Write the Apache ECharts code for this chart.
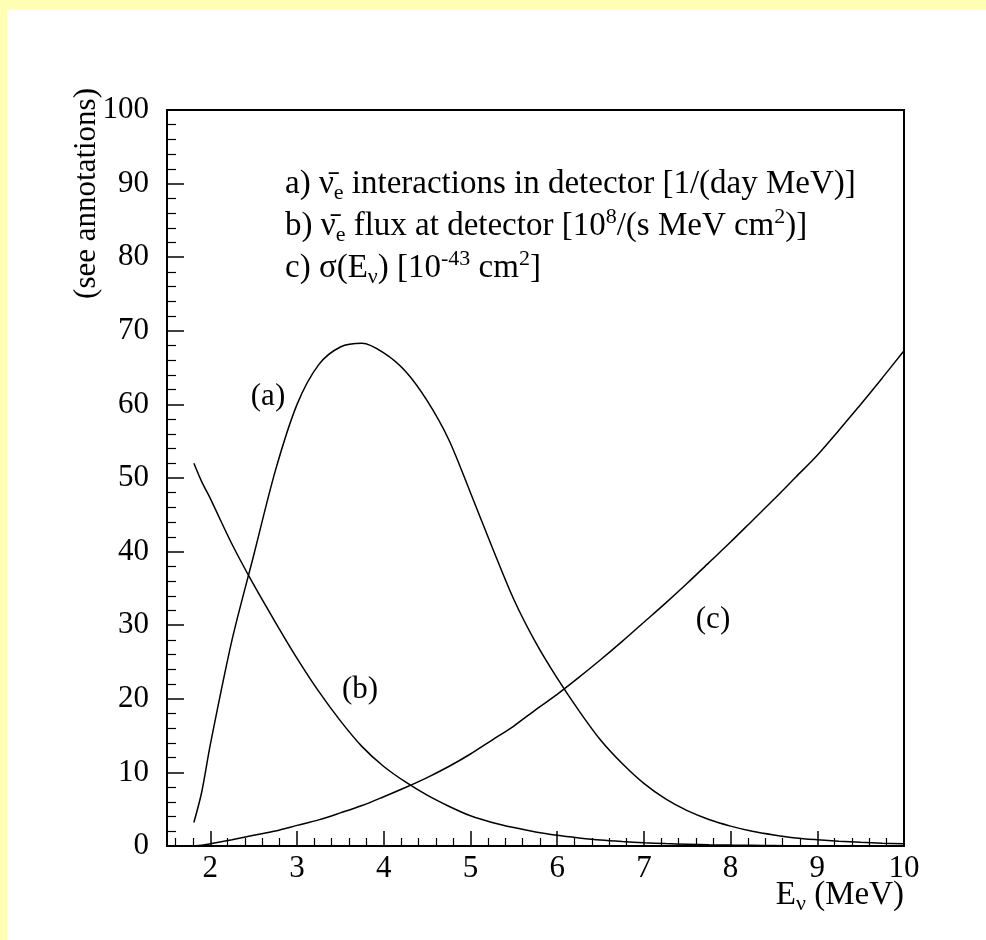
<!DOCTYPE html>
<html>
<head>
<meta charset="utf-8">
<script src="https://cdn.jsdelivr.net/npm/echarts@6/dist/echarts.min.js"></script>
<style>
html,body{margin:0;padding:0;background:#ffffb3;}
#chart{width:986px;height:940px;}
</style>
</head>
<body>
<div id="chart"></div>
<script>
// Neutrino energy grid (MeV)
var energies = [1.81, 1.9, 2.0, 2.25, 2.5, 2.75, 3.0, 3.25, 3.5, 3.75, 4.0, 4.25, 4.5, 4.75, 5.0, 5.25, 5.5, 5.75, 6.0, 6.25, 6.5, 6.75, 7.0, 7.25, 7.5, 7.75, 8.0, 8.25, 8.5, 8.75, 9.0, 9.25, 9.5, 9.75, 10.0];
// (a) interactions in detector [1/(day MeV)]
var interactions = [3.2, 7.3, 13.8, 28.0, 39.5, 51.0, 60.0, 65.4, 67.8, 68.3, 67.0, 64.5, 60.5, 55.2, 48.0, 40.6, 33.5, 27.7, 22.8, 18.4, 14.4, 11.2, 8.5, 6.4, 4.8, 3.6, 2.7, 2.0, 1.5, 1.1, 0.85, 0.65, 0.5, 0.38, 0.3];
// (b) flux at detector [1e8/(s MeV cm2)]
var flux = [52.0, 49.5, 47.2, 41.0, 35.5, 30.4, 25.5, 21.0, 17.0, 13.5, 10.8, 8.7, 6.9, 5.4, 4.1, 3.2, 2.5, 1.9, 1.45, 1.1, 0.8, 0.6, 0.45, 0.33, 0.24, 0.17, 0.12, 0.09, 0.06, 0.04, 0.03, 0.02, 0.01, 0.01, 0.0];
// (c) cross section [1e-43 cm2]
var sigma = [0.0, 0.1, 0.3, 0.85, 1.45, 2.05, 2.8, 3.55, 4.5, 5.5, 6.7, 7.95, 9.3, 10.8, 12.5, 14.4, 16.3, 18.5, 20.6, 22.9, 25.3, 27.8, 30.4, 33.0, 35.7, 38.5, 41.3, 44.2, 47.1, 50.1, 53.1, 56.5, 60.0, 63.6, 67.3];
// tick labels
var xMajorTicks = [2, 3, 4, 5, 6, 7, 8, 9, 10];
var yTicks = [0, 10, 20, 30, 40, 50, 60, 70, 80, 90, 100];
var xMinorTicks = [];
for (var t = 16; t < 100; t += 2) { if (t % 10 !== 0) xMinorTicks.push(t / 10); }

function pairs(xs, ys) { return xs.map(function (x, i) { return [x, ys[i]]; }); }

var FONT = 'Liberation Serif';
var chart = echarts.init(document.getElementById('chart'));
var lineStyle = { color: '#000', width: 1.5 };
var legendRich = {
  n: { fontFamily: FONT, fontSize: 33, color: '#000' },
  sub: { fontFamily: FONT, fontSize: 22, color: '#000', padding: [18, 0, 0, 0] },
  sup: { fontFamily: FONT, fontSize: 22, color: '#000', padding: [0, 0, 18, 0] }
};

chart.setOption({
  backgroundColor: '#ffffb3',
  animation: false,
  grid: { left: 167, top: 110, right: 82, bottom: 94, show: true, borderColor: '#000', borderWidth: 2, backgroundColor: 'transparent' },
  xAxis: [{
    type: 'value', min: 1.5, max: 10, splitNumber: 8, position: 'bottom',
    axisLine: { show: true, onZero: false, lineStyle: { color: '#000', width: 2 } },
    axisTick: { show: true, inside: true, length: 15, customValues: xMajorTicks, lineStyle: { color: '#000', width: 1.5 } },
    minorTick: { show: false },
    splitLine: { show: false },
    axisLabel: { customValues: xMajorTicks, showMinLabel: true, color: '#000', fontFamily: FONT, fontSize: 31, margin: 7 }
  }, {
    type: 'value', min: 1.5, max: 10, splitNumber: 8, position: 'bottom',
    axisLine: { show: false, onZero: false },
    axisTick: { show: true, inside: true, length: 8, customValues: xMinorTicks, lineStyle: { color: '#000', width: 1.2 } },
    axisLabel: { show: false },
    splitLine: { show: false }
  }],
  yAxis: {
    type: 'value', min: 0, max: 100, interval: 10,
    axisLine: { show: true, lineStyle: { color: '#000', width: 2 } },
    axisTick: { show: true, inside: true, length: 17, lineStyle: { color: '#000', width: 1.5 } },
    minorTick: { show: true, splitNumber: 5, length: 9, lineStyle: { color: '#000', width: 1.2 } },
    splitLine: { show: false },
    axisLabel: { color: '#000', fontFamily: FONT, fontSize: 31, margin: 18,
      formatter: function (v) { return yTicks.indexOf(v) >= 0 ? String(v) : ''; } }
  },
  series: [
    { type: 'line', name: 'a', xAxisIndex: 0, data: pairs(energies, interactions), smooth: 0.3, showSymbol: false, lineStyle: lineStyle },
    { type: 'line', name: 'b', xAxisIndex: 0, data: pairs(energies, flux), smooth: 0.3, showSymbol: false, lineStyle: lineStyle },
    { type: 'line', name: 'c', xAxisIndex: 0, data: pairs(energies, sigma), smooth: 0.3, showSymbol: false, lineStyle: lineStyle }
  ],
  graphic: [
    { type: 'rect', z: -10, shape: { x: 7, y: 9, width: 979, height: 931 }, style: { fill: '#fff' }, silent: true },
    { type: 'text', z: 10, x: 87, y: 88, rotation: Math.PI / 2,
      style: { text: '(see annotations)', fontFamily: FONT, fontSize: 31, fill: '#000', align: 'right', verticalAlign: 'middle' } },
    { type: 'text', z: 10, x: 904, y: 895,
      style: { text: '{n|E}{sub|ν}{n| (MeV)}', rich: legendRich, align: 'right', verticalAlign: 'middle' } },
    { type: 'text', z: 10, x: 285, y: 184,
      style: { text: '{n|a) ν\u0304}{sub|e}{n| interactions in detector [1/(day MeV)]}', rich: legendRich, align: 'left', verticalAlign: 'middle' } },
    { type: 'text', z: 10, x: 285, y: 226,
      style: { text: '{n|b) ν\u0304}{sub|e}{n| flux at detector [10}{sup|8}{n|/(s MeV cm}{sup|2}{n|)]}', rich: legendRich, align: 'left', verticalAlign: 'middle' } },
    { type: 'text', z: 10, x: 285, y: 268,
      style: { text: '{n|c) σ(E}{sub|ν}{n|) [10}{sup|-43}{n| cm}{sup|2}{n|]}', rich: legendRich, align: 'left', verticalAlign: 'middle' } },
    { type: 'text', z: 10, x: 268, y: 397, style: { text: '(a)', fontFamily: FONT, fontSize: 31, fill: '#000', align: 'center', verticalAlign: 'middle' } },
    { type: 'text', z: 10, x: 360, y: 690, style: { text: '(b)', fontFamily: FONT, fontSize: 31, fill: '#000', align: 'center', verticalAlign: 'middle' } },
    { type: 'text', z: 10, x: 713, y: 620, style: { text: '(c)', fontFamily: FONT, fontSize: 31, fill: '#000', align: 'center', verticalAlign: 'middle' } }
  ]
});
</script>
</body>
</html>
